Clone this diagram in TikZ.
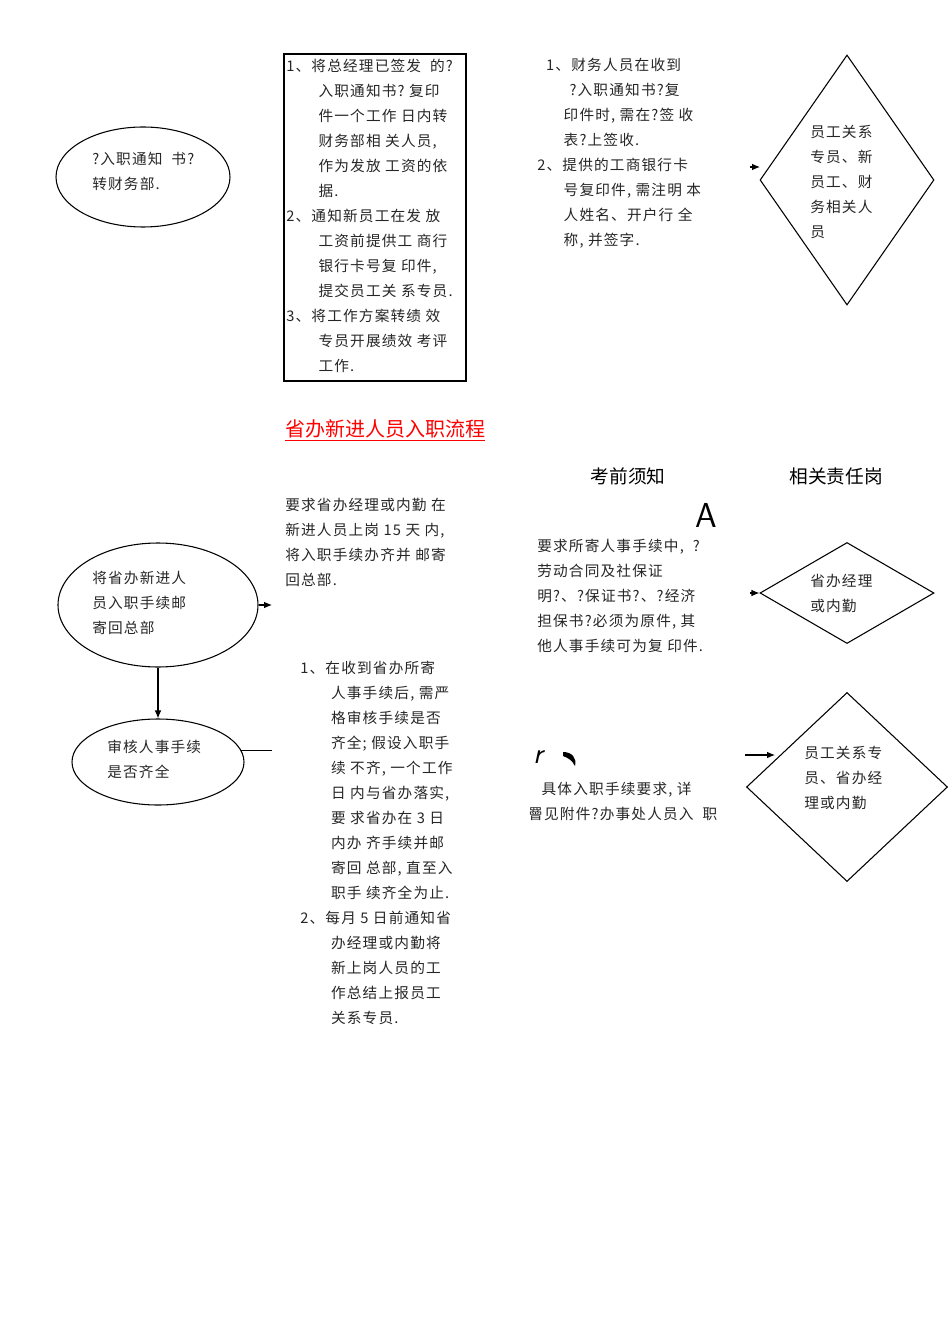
\documentclass[tikz,border=0pt]{standalone}
\usepackage{fontspec}
\setmainfont{Liberation Serif}
\newfontfamily\cjk{Noto Sans CJK SC}
\newfontfamily\cjkw[LetterSpace=8]{Noto Sans CJK SC}
\usetikzlibrary{shapes.geometric,arrows.meta}
\begin{document}
\begin{tikzpicture}[x=0.75pt,y=-0.75pt,
  txt/.style={anchor=north west,align=left,inner sep=0pt,font=\cjkw\fontsize{11}{18.75}\selectfont,text=black!85},
  ln/.style={line width=0.8pt},
  arr/.style={ln,-{Latex[length=6pt,width=5pt]}}]
\useasboundingbox (0,0) rectangle (950,1344);
% top row
\draw[ln] (143,177) ellipse (87 and 50);
\node[txt] (t1) at (92,152) {?入职通知\ \ 书?\\转财务部.};
\draw[ln] (284,54) rectangle (466,381);
\node[txt] (t2) at (286,59) {1、将总经理已签发\ \ 的?\\\hspace{2.2em}入职通知书?\ 复印\\\hspace{2.2em}件一个工作\ 日内转\\\hspace{2.2em}财务部相\ 关人员,\\\hspace{2.2em}作为发放\ 工资的依\\\hspace{2.2em}据.\\2、通知新员工在发\ 放\\\hspace{2.2em}工资前提供工\ 商行\\\hspace{2.2em}银行卡号复\ 印件,\\\hspace{2.2em}提交员工关\ 系专员.\\3、将工作方案转绩\ 效\\\hspace{2.2em}专员开展绩效\ 考评\\\hspace{2.2em}工作.};
\node[txt] (t3) at (537,58) {\ \ 1、财务人员在收到\\\hspace{2.2em}?入职通知书?复\\\hspace{1.8em}印件时, 需在?签\ 收\\\hspace{1.8em}表?上签收.\\2、提供的工商银行卡\\\hspace{1.8em}号复印件, 需注明\ 本\\\hspace{1.8em}人姓名、开户行\ 全\\\hspace{1.8em}称, 并签字.};
\node[draw,ln,diamond,minimum width=174*0.75pt,minimum height=250*0.75pt,inner sep=0pt] (d1) at (847,180) {};
\node[txt] (d1t) at (810,125) {员工关系\\专员、新\\员工、财\\务相关人\\员};
\coordinate (a1) at (750,167);
\draw[arr] (a1) -- (760,167);
% title
\node[anchor=west,inner sep=0pt,font=\cjk\fontsize{15}{16}\selectfont,text=red] (title) at (285,430) {\underline{省办新进人员入职流程}};
\node[font=\cjk\fontsize{14}{16}\selectfont] (h1) at (628,476) {考前须知};
\node[font=\cjk\fontsize{14}{16}\selectfont] (h2) at (836,476) {相关责任岗};
\node[font=\sffamily\fontsize{26}{28}\selectfont] (A) at (706,515) {A};
% second part
\node[txt] (t4) at (285,498) {要求省办经理或内勤\ 在\\新进人员上岗 15 天\ 内,\\将入职手续办齐并\ 邮寄\\回总部.};
\node[draw,ln,ellipse,minimum width=200*0.75pt,minimum height=124*0.75pt] (e2) at (158,605) {};
\node[txt] (e2t) at (92,571) {将省办新进人\\员入职手续邮\\寄回总部};
\coordinate (p2) at (272,605);
\draw[arr] (e2.east) -- (p2);
\node[draw,ln,ellipse,minimum width=172*0.75pt,minimum height=86*0.75pt] (e3) at (158,762) {};
\node[txt] (e3t) at (107,740) {审核人事手续\\是否齐全};
\draw[arr] (e2.south) -- (e3.north);
\coordinate (p3) at (272,756);
\draw[ln] (e3.8) -- (e3.8 -| p3);
\node[txt] (t5) at (537,539) {要求所寄人事手续中,\ \ ?\\劳动合同及社保证\\明?、?保证书?、?经济\\担保书?必须为原件,\ 其\\他人事手续可为复\ 印件.};
\node[draw,ln,diamond,minimum width=174*0.75pt,minimum height=101*0.75pt,inner sep=0pt] (d2) at (847,593) {};
\node[txt] (d2t) at (810,574) {省办经理\\或内勤};
\draw[arr] (750,593) -- (d2.west);
\node[txt] (t6) at (300,661) {1、在收到省办所寄\\\hspace{2.1em}人事手续后, 需严\\\hspace{2.1em}格审核手续是否\\\hspace{2.1em}齐全; 假设入职手\\\hspace{2.1em}续\ 不齐, 一个工作\\\hspace{2.1em}日\ 内与省办落实,\\\hspace{2.1em}要\ 求省办在 3 日\\\hspace{2.1em}内办\ 齐手续并邮\\\hspace{2.1em}寄回\ 总部, 直至入\\\hspace{2.1em}职手\ 续齐全为止.\\2、每月 5 日前通知省\\\hspace{2.1em}办经理或内勤将\\\hspace{2.1em}新上岗人员的工\\\hspace{2.1em}作总结上报员工\\\hspace{2.1em}关系专员.};
\node[font=\sffamily\itshape\fontsize{22}{24}\selectfont] (r) at (538,757) {r};
\fill (563,752) .. controls (572,752) and (577,758) .. (575,766) .. controls (572,760) and (568,758) .. (563,756) -- cycle;
\node[txt] (t7) at (528,782) {\ \ \ 具体入职手续要求, 详\\罾见附件?办事处人员入\ \ 职};
\node[draw,ln,diamond,minimum width=201*0.75pt,minimum height=189*0.75pt,inner sep=0pt] (d3) at (847,787) {};
\node[txt] (d3t) at (804,746) {员工关系专\\员、省办经\\理或内勤};
\coordinate (a3) at (745,755);
\draw[arr] (a3) -- (775,755);
\end{tikzpicture}
\end{document}
